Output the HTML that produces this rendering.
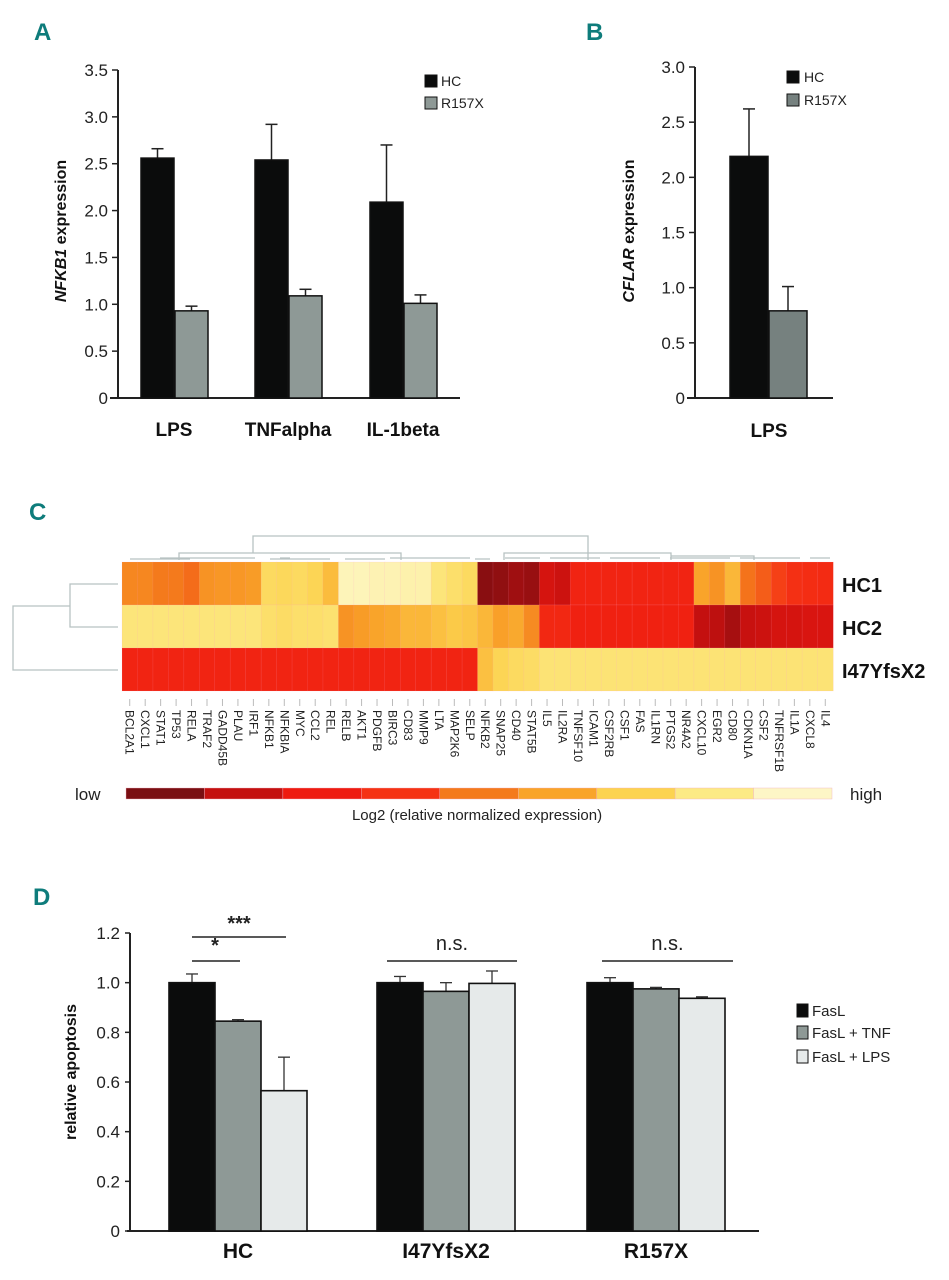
<!DOCTYPE html>
<html><head><meta charset="utf-8"><style>
html,body{margin:0;padding:0;background:#fff;}
svg{display:block;}
text{font-family:"Liberation Sans",sans-serif;}
.cond{font-family:"Liberation Sans Narrow","Liberation Sans",sans-serif;}
</style></head><body>
<svg id="fig" width="949" height="1280" viewBox="0 0 949 1280" xmlns="http://www.w3.org/2000/svg">
<g fill="#0e7c7b" font-weight="bold" font-size="24" class="cond">
<text x="34" y="40" class="cond">A</text>
<text x="586" y="40" class="cond">B</text>
<text x="29" y="520" class="cond">C</text>
<text x="33" y="905" class="cond">D</text>
</g>
<g id="pa"></g>
<g id="pb"></g>
<g id="pc"></g>
<g id="pd"></g>
</svg>
<script>
// Panel A data
const aCategories = ["LPS","TNFalpha","IL-1beta"];
const aHC = [2.56, 2.54, 2.09];
const aHCerr = [0.10, 0.38, 0.61];
const aR = [0.93, 1.09, 1.01];
const aRerr = [0.05, 0.07, 0.09];
const aTicks = ["0","0.5","1.0","1.5","2.0","2.5","3.0","3.5"];
// Panel B data
const bCategories = ["LPS"];
const bHC = [2.19];
const bHCerr = [0.43];
const bR = [0.79];
const bRerr = [0.22];
const bTicks = ["0","0.5","1.0","1.5","2.0","2.5","3.0"];
// Panel C data
const genes = ["BCL2A1","CXCL1","STAT1","TP53","RELA","TRAF2","GADD45B","PLAU","IRF1","NFKB1","NFKBIA","MYC","CCL2","REL","RELB","AKT1","PDGFB","BIRC3","CD83","MMP9","LTA","MAP2K6","SELP","NFKB2","SNAP25","CD40","STAT5B","IL5","IL2RA","TNFSF10","ICAM1","CSF2RB","CSF1","FAS","IL1RN","PTGS2","NR4A2","CXCL10","EGR2","CD80","CDKN1A","CSF2","TNFRSF1B","IL1A","CXCL8","IL4"];
const samples = ["HC1","HC2","I47YfsX2"];
// level 0 (low) .. 8 (high)
const hc1 = [4.3,4.3,4.0,4.0,3.8,4.6,4.7,4.7,4.8,6.3,6.2,6.3,6.1,5.5,7.8,7.8,7.7,7.7,7.6,7.6,6.8,6.5,6.3,0.2,0.3,0.5,0.4,1.4,1.2,2.4,2.4,2.4,2.4,2.4,2.4,2.4,2.4,5.0,4.6,5.4,3.9,3.6,3.2,2.9,2.8,2.7];
const hc2 = [6.8,6.8,6.8,6.8,6.8,6.8,6.8,6.8,6.8,6.5,6.4,6.5,6.5,6.6,4.6,4.8,5.0,5.1,5.4,5.4,5.6,5.8,5.7,5.4,4.9,5.1,4.4,2.6,2.6,2.3,2.3,2.3,2.3,2.3,2.3,2.3,2.3,1.0,0.9,0.6,1.1,1.2,1.4,1.4,1.5,1.5];
const i47 = [2.4,2.4,2.4,2.4,2.4,2.4,2.4,2.4,2.4,2.4,2.4,2.4,2.4,2.4,2.4,2.4,2.4,2.4,2.4,2.4,2.4,2.4,2.4,5.6,6.1,6.3,6.4,6.7,6.7,6.7,6.7,6.7,6.7,6.7,6.7,6.7,6.7,6.7,6.7,6.7,6.7,6.7,6.7,6.7,6.7,6.7];
const legendLevels = [0,1,2,3,4,5,6,7,8];
// Panel D data
const dCategories = ["HC","I47YfsX2","R157X"];
const dFasL = [1.0, 1.0, 1.0];
const dFasLerr = [0.035, 0.025, 0.02];
const dTNF = [0.845, 0.965, 0.975];
const dTNFerr = [0.006, 0.035, 0.006];
const dLPS = [0.565, 0.997, 0.937];
const dLPSerr = [0.135, 0.05, 0.006];
const dTicks = ["0","0.2","0.4","0.6","0.8","1.0","1.2"];

const NS="http://www.w3.org/2000/svg";
function mk(parent, tag, attrs, txt){const e=document.createElementNS(NS,tag);for(const k in attrs)e.setAttribute(k,attrs[k]);if(txt!==undefined)e.textContent=txt;parent.appendChild(e);return e;}

// ---------- Panel A ----------
(function(){
const g=document.getElementById('pa');
const y0=398, ymax=3.5, yTop=70; const ax=118;
const y=v=>y0-(v/ymax)*(y0-yTop);
aTicks.forEach(t=>{const v=parseFloat(t);
 const l=mk(g,'line',{x1:ax-6,x2:ax,y1:y(v),y2:y(v),stroke:'#222','stroke-width':1.5});
 
 const tx=mk(g,'text',{x:ax-10,y:y(v)+6,'text-anchor':'end','font-size':17,fill:'#222'},t);
 });
let e=mk(g,'line',{x1:ax,x2:ax,y1:yTop,y2:y0,stroke:'#222','stroke-width':2});
e=mk(g,'line',{x1:110,x2:460,y1:y0,y2:y0,stroke:'#222','stroke-width':2});
const starts=[141,255,370], bw=33;
aCategories.forEach((c,i)=>{
 const x1=starts[i];
 [[aHC,aHCerr,'#0b0c0c',x1],[aR,aRerr,'#8e9996',x1+bw+1]].forEach(([vals,errs,col,x])=>{
  const top=y(vals[i]+errs[i]), cx=x+bw/2;
  let l=mk(g,'line',{x1:cx,x2:cx,y1:top,y2:y(vals[i]),stroke:'#222','stroke-width':1.5});
  l=mk(g,'line',{x1:cx-6,x2:cx+6,y1:top,y2:top,stroke:'#222','stroke-width':1.5});
  const r=mk(g,'rect',{x:x,y:y(vals[i]),width:bw,height:y0-y(vals[i]),fill:col,stroke:'#111','stroke-width':1.5});
  
 });
 const t=mk(g,'text',{x:x1+bw,y:436,'text-anchor':'middle','font-size':19,'font-weight':'bold',fill:'#111'},c);
 
});
e=mk(g,'text',{transform:'translate(66,231) rotate(-90)','text-anchor':'middle','font-size':16,'font-weight':'bold',fill:'#111'});

mk(e,'tspan',{'font-style':'italic'},'NFKB1');mk(e,'tspan',{},' expression');
[['HC','#0b0c0c',75],['R157X','#8e9996',97]].forEach(([n,c,yy])=>{
 const r=mk(g,'rect',{x:425,y:yy,width:12,height:12,fill:c,stroke:'#111','stroke-width':1});
 const t=mk(g,'text',{x:441,y:yy+11,'font-size':14,fill:'#222'},n);});
})();

// ---------- Panel B ----------
(function(){
const g=document.getElementById('pb');
const y0=398, ymax=3.0, yTop=67, ax=695;
const y=v=>y0-(v/ymax)*(y0-yTop);
bTicks.forEach(t=>{const v=parseFloat(t);
 const l=mk(g,'line',{x1:ax-6,x2:ax,y1:y(v),y2:y(v),stroke:'#222','stroke-width':1.5});
 const tx=mk(g,'text',{x:ax-10,y:y(v)+6,'text-anchor':'end','font-size':17,fill:'#222'},t);});
let e=mk(g,'line',{x1:ax,x2:ax,y1:yTop,y2:y0,stroke:'#222','stroke-width':2});
e=mk(g,'line',{x1:687,x2:833,y1:y0,y2:y0,stroke:'#222','stroke-width':2});
const bw=38;
[[bHC,bHCerr,'#0b0c0c',730],[bR,bRerr,'#76817f',769]].forEach(([vals,errs,col,x])=>{
 const top=y(vals[0]+errs[0]), cx=x+bw/2;
 let l=mk(g,'line',{x1:cx,x2:cx,y1:top,y2:y(vals[0]),stroke:'#222','stroke-width':1.5});
 l=mk(g,'line',{x1:cx-6,x2:cx+6,y1:top,y2:top,stroke:'#222','stroke-width':1.5});
 const r=mk(g,'rect',{x:x,y:y(vals[0]),width:bw,height:y0-y(vals[0]),fill:col,stroke:'#111','stroke-width':1.5});});
e=mk(g,'text',{x:769,y:437,'text-anchor':'middle','font-size':19,'font-weight':'bold',fill:'#111'},bCategories[0]);
e=mk(g,'text',{transform:'translate(634,231) rotate(-90)','text-anchor':'middle','font-size':16,'font-weight':'bold',fill:'#111'});

mk(e,'tspan',{'font-style':'italic'},'CFLAR');mk(e,'tspan',{},' expression');
[['HC','#0b0c0c',71],['R157X','#76817f',94]].forEach(([n,c,yy])=>{
 const r=mk(g,'rect',{x:787,y:yy,width:12,height:12,fill:c,stroke:'#111','stroke-width':1});
 const t=mk(g,'text',{x:804,y:yy+11,'font-size':14,fill:'#222'},n);});
})();

// ---------- Panel C ----------
(function(){
const g=document.getElementById('pc');
const pal=['#7a0e12','#c4100f','#ee1a10','#f53214','#f47a1c','#f9a42a','#fcd350','#fcea85','#fdf6c6'];
function col(v){v=Math.max(0,Math.min(8,v));const i=Math.min(7,Math.floor(v)),f=v-i;
 const a=pal[i],b=pal[i+1];const p=(s,k)=>parseInt(s.substr(1+2*k,2),16);
 const c=[0,1,2].map(k=>Math.round(p(a,k)*(1-f)+p(b,k)*f));return 'rgb('+c.join(',')+')';}
const x0=122,x1=833,cw=(x1-x0)/genes.length; const rowY=[562,605,648], rh=43;
const rows=[hc1,hc2,i47];
rows.forEach((vals,r)=>{vals.forEach((v,i)=>{
 const c=mk(g,'rect',{x:x0+i*cw,y:rowY[r],width:cw+0.3,height:rh,fill:col(v),stroke:'rgba(255,160,200,0.25)','stroke-width':0.5});
 });
 const t=mk(g,'text',{x:842,y:rowY[r]+30,'font-size':20,'font-weight':'bold',fill:'#111'},samples[r]);
 });
genes.forEach((n,i)=>{const cx=x0+(i+0.5)*cw;
 const l=mk(g,'line',{x1:cx,x2:cx,y1:699,y2:706,stroke:'#bbb','stroke-width':1});
 const t=mk(g,'text',{transform:'translate('+(cx-4)+',710) rotate(90)','font-size':12,fill:'#222'},n);
 });
// dendrograms
const dg=mk(g,'g',{stroke:'#b8c2c2','stroke-width':1.3,fill:'none'});
mk(dg,'path',{d:'M118,584 H70 V627 H118 M70,606 H13 V670 H118'});
mk(dg,'path',{d:'M253,553 V536 H588 V553 M179,560 V553 H401 V560 M504,560 V553 H671 V560 M588,553 V560 M671,560 V556 H754 V560'});
mk(dg,'path',{d:'M130,559 H190 M160,558 H255 M270,559 H330 M345,559 H385 M390,558 H470 M475,559 H490 M505,558 H540 M550,558 H600 M610,558 H660 M670,558 H730 M740,558 H800 M810,558 H830 M280,558 H290'});
// colorbar
const cbx0=126,cbx1=832, sw=(cbx1-cbx0)/legendLevels.length;
legendLevels.forEach((lv,i)=>{const r=mk(g,'rect',{x:cbx0+i*sw,y:788,width:sw,height:11,fill:pal[lv],stroke:'#f0b0c0','stroke-width':0.4});
 });
let t=mk(g,'text',{x:75,y:800,'font-size':17,fill:'#222'},'low');
t=mk(g,'text',{x:850,y:800,'font-size':17,fill:'#222'},'high');
t=mk(g,'text',{x:477,y:820,'text-anchor':'middle','font-size':15,fill:'#222'},'Log2 (relative normalized expression)');
})();

// ---------- Panel D ----------
(function(){
const g=document.getElementById('pd');
const y0=1231, ymax=1.2, yTop=933, ax=130;
const y=v=>y0-(v/ymax)*(y0-yTop);
dTicks.forEach(t=>{const v=parseFloat(t);
 const l=mk(g,'line',{x1:ax-5,x2:ax,y1:y(v),y2:y(v),stroke:'#222','stroke-width':1.5});
 const tx=mk(g,'text',{x:ax-10,y:y(v)+6,'text-anchor':'end','font-size':17,fill:'#222',class:'cond'},t);});
let e=mk(g,'line',{x1:ax,x2:ax,y1:yTop,y2:y0,stroke:'#222','stroke-width':2});
e=mk(g,'line',{x1:127,x2:759,y1:y0,y2:y0,stroke:'#222','stroke-width':2});
const starts=[169,377,587], bw=46;
const series=[[dFasL,dFasLerr,'#0b0c0c','fasl'],[dTNF,dTNFerr,'#8e9996','fasl-tnf'],[dLPS,dLPSerr,'#e6eaea','fasl-lps']];
dCategories.forEach((c,i)=>{
 series.forEach(([vals,errs,colr,nm],s)=>{const x=starts[i]+s*bw, cx=x+bw/2, top=y(vals[i]+errs[i]);
  let l=mk(g,'line',{x1:cx,x2:cx,y1:top,y2:y(vals[i]),stroke:'#333','stroke-width':1.3});
  l=mk(g,'line',{x1:cx-6,x2:cx+6,y1:top,y2:top,stroke:'#333','stroke-width':1.3});
  const r=mk(g,'rect',{x:x,y:y(vals[i]),width:bw,height:y0-y(vals[i]),fill:colr,stroke:'#111','stroke-width':1.6});
  });
 const t=mk(g,'text',{x:starts[i]+1.5*bw,y:1258,'text-anchor':'middle','font-size':21,'font-weight':'bold',fill:'#111',class:'cond'},c);
 
});
const sig=[[192,240,961,'*',952,11],[192,286,937,'***',930,0],[387,517,961,'n.s.',950,-2],[602,733,961,'n.s.',950,-2]];
sig.forEach(([a,b,yy,lab,ty])=>{
 const l=mk(g,'line',{x1:a,x2:b,y1:yy,y2:yy,stroke:'#222','stroke-width':1.6});
 const t=mk(g,'text',{x:lab==='*'?215:(a+b)/2,y:ty,'text-anchor':'middle','font-size':lab.indexOf('*')>=0?20:20,'font-weight':lab.indexOf('*')>=0?'bold':'normal',fill:'#222',class:'cond'},lab);
 });
e=mk(g,'text',{transform:'translate(76,1072) rotate(-90)','text-anchor':'middle','font-size':16,'font-weight':'bold',fill:'#111'},'relative apoptosis');

[['FasL','#0b0c0c',1004],['FasL + TNF','#8e9996',1026],['FasL + LPS','#e6eaea',1050]].forEach(([n,c,yy])=>{
 const r=mk(g,'rect',{x:797,y:yy,width:11,height:13,fill:c,stroke:'#111','stroke-width':1});
 const t=mk(g,'text',{x:812,y:yy+12,'font-size':15,fill:'#222',class:'cond'},n);});
})();
</script>
</body></html>
